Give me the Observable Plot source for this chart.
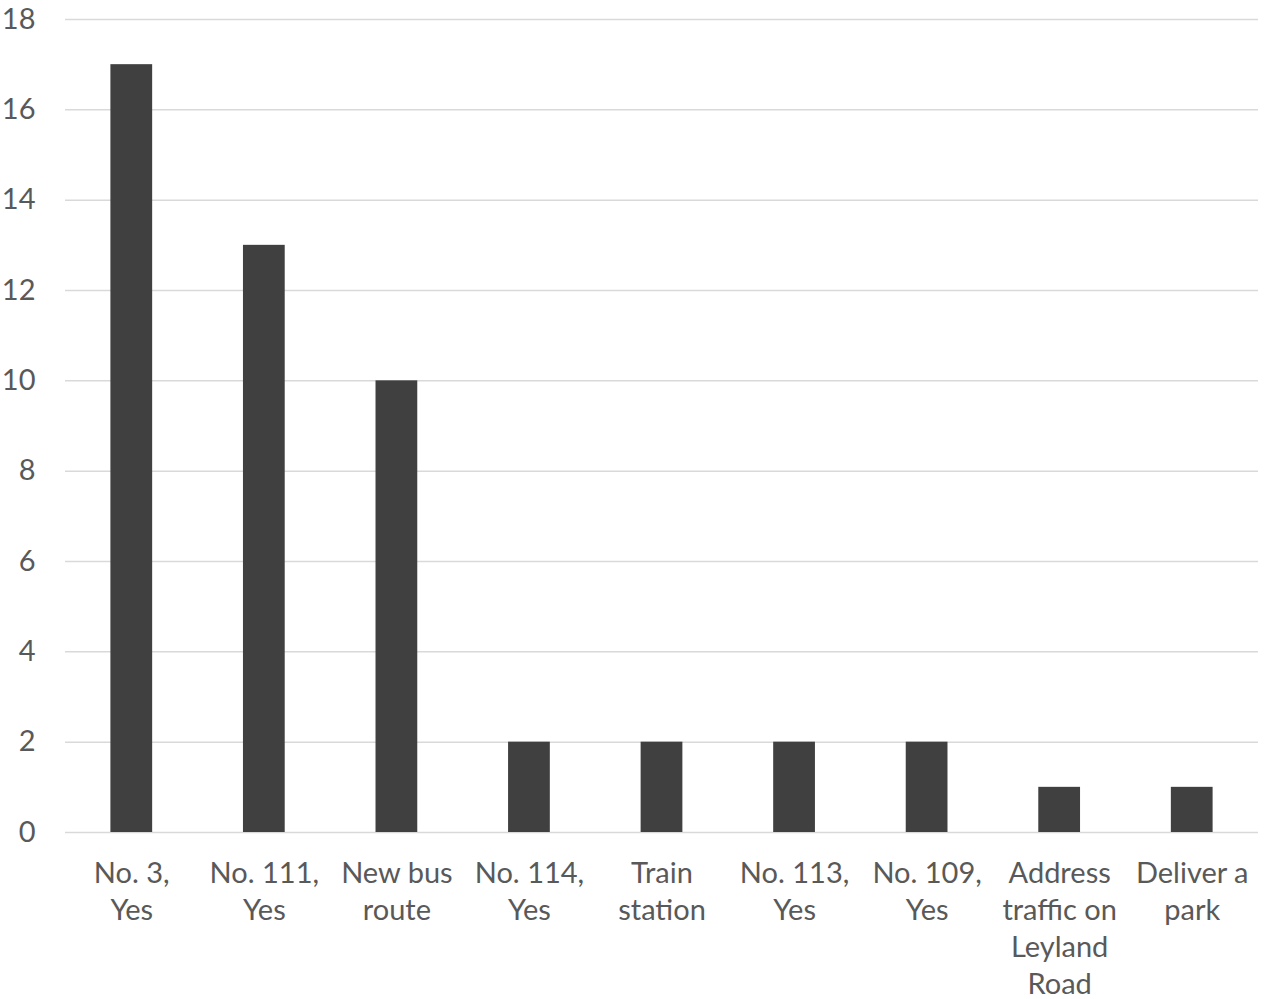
<!DOCTYPE html>
<html>
<head>
<meta charset="utf-8">
<script src="https://cdn.jsdelivr.net/npm/d3@7"></script>
<script src="https://cdn.jsdelivr.net/npm/@observablehq/plot@0.6"></script>
<style>
  html, body { margin: 0; padding: 0; background: #ffffff; }
  #chart { width: 1268px; height: 999px; }
</style>
</head>
<body>
<div id="chart"></div>
<script>
const categories = [
  "No. 3,\nYes",
  "No. 111,\nYes",
  "New bus\nroute",
  "No. 114,\nYes",
  "Train\nstation",
  "No. 113,\nYes",
  "No. 109,\nYes",
  "Address\ntraffic on\nLeyland\nRoad",
  "Deliver a\npark"
];
const values = [17, 13, 10, 2, 2, 2, 2, 1, 1];
const yTicks = [0, 2, 4, 6, 8, 10, 12, 14, 16, 18];

const data = categories.map((c, i) => ({category: c, value: values[i]}));

const chart = Plot.plot({
  width: 1268,
  height: 999,
  marginLeft: 65,
  marginRight: 10,
  marginTop: 19,
  marginBottom: 167,
  style: {fontFamily: "Lato, sans-serif", background: "#ffffff"},
  x: {domain: categories, paddingInner: 0.685, paddingOuter: 0.3425, round: false, label: null},
  y: {domain: [0, 18], label: null},
  marks: [
    Plot.gridY(yTicks, {stroke: "#d9d9d9", strokeOpacity: 1, strokeWidth: 1.5}),
    Plot.barY(data, {x: "category", y: "value", fill: "#404040"}),
    Plot.axisY(yTicks, {tickSize: 0, tickPadding: 30, fontSize: 29, fill: "#595959", label: null}),
    Plot.axisX({tickSize: 0, tickPadding: 24, fontSize: 29, lineHeight: 37 / 29, fill: "#595959", label: null})
  ]
});
document.getElementById("chart").appendChild(chart);
</script>
</body>
</html>
